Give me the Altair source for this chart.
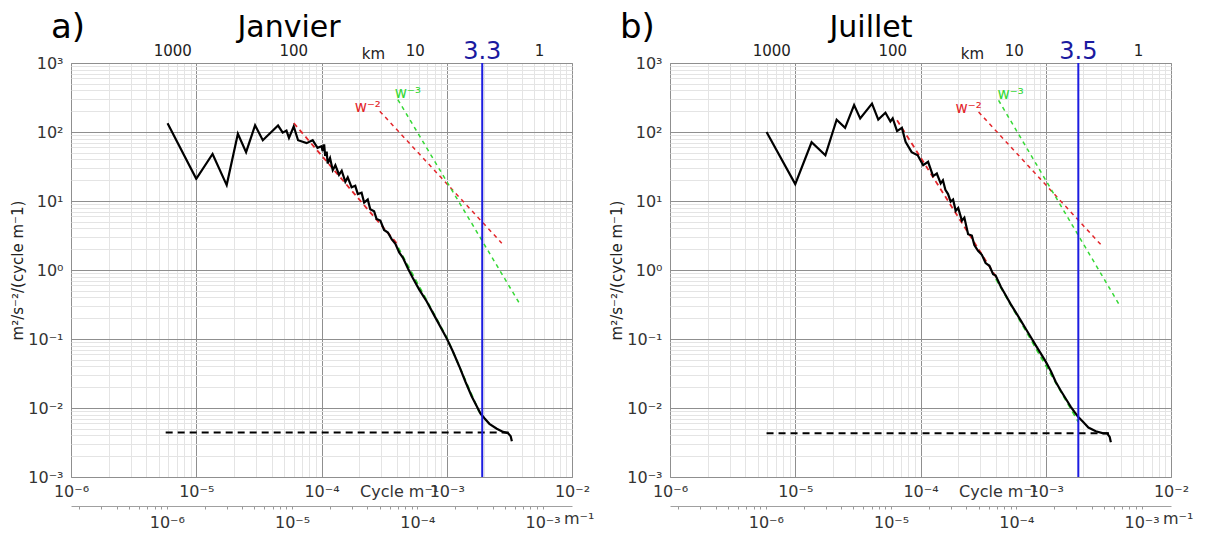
import altair as alt
import pandas as pd

FONT = "DejaVu Sans"

# ---------------- data ----------------
titles = ["Janvier", "Juillet"]
tags = ["a)", "b)"]
cutoff_labels = ["3.3", "3.5"]
cutoff_k = [1.92e-3, 1.82e-3]

km_labels = ["1000", "100", "10", "1"]
km_label_k = [6.5e-6, 6.0e-5, 5.6e-4, 5.5e-3]
km_unit_k = [2.6e-4]

# January spectrum (cycle m-1, m2 s-2 / cycle m-1)
jan_k = [5.9e-6, 1.0e-5, 1.35e-5, 1.75e-5, 2.15e-5, 2.5e-5, 2.95e-5, 3.4e-5, 4.5e-5, 4.9e-5,
         5.25e-5, 5.5e-5, 6.0e-5, 6.5e-5, 7.6e-5, 8.5e-5, 9.3e-5, 1.0e-4, 1.02e-4, 1.05e-4,
         1.07e-4, 1.1e-4, 1.12e-4, 1.17e-4, 1.23e-4, 1.29e-4, 1.38e-4, 1.45e-4, 1.55e-4, 1.62e-4,
         1.74e-4, 1.86e-4, 1.95e-4, 2.09e-4, 2.19e-4, 2.34e-4, 2.45e-4, 2.63e-4, 2.75e-4, 2.95e-4,
         3.16e-4, 3.39e-4, 3.63e-4, 3.89e-4, 4.17e-4, 4.47e-4, 4.90e-4, 5.37e-4, 6.03e-4, 6.92e-4,
         7.94e-4, 9.12e-4, 1.0e-3, 1.12e-3, 1.26e-3, 1.41e-3, 1.58e-3, 1.74e-3, 1.86e-3, 2.0e-3,
         2.19e-3, 2.51e-3, 2.82e-3, 3.09e-3, 3.24e-3, 3.31e-3]
jan_e = [134, 21, 48, 17, 94, 51, 125, 76, 124, 98,
         105, 82, 120, 76, 69, 76, 59, 62, 53, 66,
         45, 52, 35, 42, 28, 33, 24, 27.5, 19, 22,
         15.8, 16.6, 12.6, 13.2, 9.5, 10.5, 7.6, 7.1, 5.5, 5.2,
         3.8, 3.5, 2.8, 2.4, 1.8, 1.5, 1.05, 0.76, 0.52, 0.35,
         0.22, 0.138, 0.102, 0.066, 0.040, 0.024, 0.0148, 0.0105, 0.0083, 0.0071,
         0.0059, 0.0050, 0.0045, 0.0043, 0.0039, 0.0033]

# July spectrum
jul_k = [5.9e-6, 1.0e-5, 1.35e-5, 1.74e-5, 2.14e-5, 2.5e-5, 2.95e-5, 3.3e-5, 4.1e-5, 4.6e-5,
         5.25e-5, 5.75e-5, 6.0e-5, 6.5e-5, 7.1e-5, 7.6e-5, 8.5e-5, 9.5e-5, 1.05e-4, 1.15e-4,
         1.26e-4, 1.35e-4, 1.45e-4, 1.51e-4, 1.58e-4, 1.66e-4, 1.74e-4, 1.82e-4, 1.91e-4, 2.0e-4,
         2.14e-4, 2.24e-4, 2.40e-4, 2.57e-4, 2.69e-4, 2.88e-4, 3.09e-4, 3.31e-4, 3.55e-4, 3.80e-4,
         3.98e-4, 4.37e-4, 4.79e-4, 5.25e-4, 5.75e-4, 6.31e-4, 6.92e-4, 7.59e-4, 8.32e-4, 9.12e-4,
         1.0e-3, 1.10e-3, 1.20e-3, 1.32e-3, 1.45e-3, 1.58e-3, 1.70e-3, 1.82e-3, 2.0e-3, 2.19e-3,
         2.51e-3, 2.88e-3, 3.09e-3, 3.24e-3, 3.31e-3]
jul_e = [100, 17.6, 71, 46, 151, 115, 245, 157, 258, 151,
         190, 142, 158, 103, 115, 72, 51, 46, 33, 37,
         23, 25, 18, 20, 14.5, 12.6, 9.8, 10.5, 7.2, 7.9,
         5.2, 5.75, 3.3, 3.16, 2.3, 1.9, 1.66, 1.26, 1.15, 0.87,
         0.83, 0.575, 0.43, 0.32, 0.245, 0.186, 0.141, 0.107, 0.081, 0.062,
         0.047, 0.034, 0.024, 0.0178, 0.0135, 0.0105, 0.0087, 0.0074, 0.0062, 0.0052,
         0.0046, 0.0043, 0.0043, 0.0038, 0.0032]

# noise level (dashed black)
jan_noise_k = [5.7e-6, 3.2e-3]
jan_noise_e = [0.0044, 0.0044]
jul_noise_k = [5.9e-6, 3.2e-3]
jul_noise_e = [0.0043, 0.0043]

# fits along the spectrum
jan_fit2_k = [6.0e-5, 4.1e-4]
jan_fit2_e = [135, 2.3]
jan_fit3_k = [4.1e-4, 1.0e-3, 1.82e-3]
jan_fit3_e = [2.1, 0.105, 0.0087]
jul_fit2_k = [6.5e-5, 4.0e-4]
jul_fit2_e = [148, 0.8]
jul_fit3_k = [4.0e-4, 1.82e-3]
jul_fit3_e = [0.74, 0.0063]

# reference slopes w-2 and w-3
jan_ref2_k = [2.92e-4, 2.75e-3]
jan_ref2_e = [200, 2.45]
jan_ref3_k = [4.07e-4, 3.8e-3]
jan_ref3_e = [295, 0.33]
jul_ref2_k = [2.91e-4, 2.75e-3]
jul_ref2_e = [195, 2.34]
jul_ref3_k = [4.2e-4, 3.84e-3]
jul_ref3_e = [288, 0.32]

ref_labels = ["w⁻²", "w⁻³"]
jan_ref_label_k = [2.34e-4, 4.9e-4]
jan_ref_label_e = [229, 367]
jul_ref_label_k = [2.42e-4, 5.25e-4]
jul_ref_label_e = [220, 359]

# ---------------- helpers ----------------
SUP = str.maketrans("-0123456789", "⁻⁰¹²³⁴⁵⁶⁷⁸⁹")
L = "round(log(datum.value)/LN10)"
ISDEC = "abs(log(datum.value)/LN10 - round(log(datum.value)/LN10)) < 0.02"


def label_expr():
    expr = "''"
    for e in range(3, -9, -1):
        expr = f"{L} == {e} ? '10{str(e).translate(SUP)}' : ({expr})"
    return f"{ISDEC} ? ({expr}) : ''"


LABEL_EXPR = label_expr()
GRID_COLOR = {"condition": {"test": ISDEC, "value": "#8f8f8f"}, "value": "#e4e4e4"}

x_vals = [m * 10.0 ** e for e in range(-6, -2) for m in range(1, 10)] + [1e-2]
y_vals = [m * 10.0 ** e for e in range(-3, 3) for m in range(1, 10)] + [1e3]
x2_vals = [m * 10.0 ** e for e in range(-7, -2) for m in range(1, 10)]

W, H = 501, 414

XS = alt.Scale(type="log", domain=[1e-6, 1e-2], nice=False)
YS = alt.Scale(type="log", domain=[1e-3, 1e3], nice=False)
XAX = alt.Axis(values=x_vals, labelExpr=LABEL_EXPR, grid=True, gridColor=GRID_COLOR,
               ticks=False, domain=False, labelFlush=False, labelOverlap=False,
               labelFontSize=16, labelColor="#333333", labelPadding=6, title=None)
YAX = alt.Axis(values=y_vals, labelExpr=LABEL_EXPR, grid=True, gridColor=GRID_COLOR,
               ticks=False, domain=False, labelOverlap=False,
               labelFontSize=16, labelColor="#333333", labelPadding=8,
               title="m²/s⁻²/(cycle m⁻1)", titleFontSize=15, titleFontWeight="normal",
               titleColor="#222222", titlePadding=2)


def xenc(field="k"):
    return alt.X(f"{field}:Q", scale=XS, axis=XAX)


def yenc(field="e"):
    return alt.Y(f"{field}:Q", scale=YS, axis=YAX)


def line(k, e, **kw):
    df = pd.DataFrame({"k": k, "e": e})
    return alt.Chart(df).mark_line(**kw).encode(x=xenc(), y=yenc(), order="k:Q")


def panel(i, spec_k, spec_e, noise_k, noise_e, f2k, f2e, f3k, f3e, r2k, r2e, r3k, r3e,
          lab_k, lab_e, title_dx, tag_dx):
    red, green = "#e3262b", "#35d835"
    layers = []
    layers.append(line(f2k, f2e, color=red, strokeDash=[5, 4], strokeWidth=1.8))
    layers.append(line(f3k, f3e, color=green, strokeDash=[5, 4], strokeWidth=1.8))
    layers.append(line(spec_k, spec_e, color="black", strokeWidth=2.2))
    layers.append(line(noise_k, noise_e, color="black", strokeDash=[7, 5], strokeWidth=2))
    layers.append(line(r2k, r2e, color=red, strokeDash=[4, 4], strokeWidth=1.5))
    layers.append(line(r3k, r3e, color=green, strokeDash=[4, 4], strokeWidth=1.5))
    # w labels
    lab_df = pd.DataFrame({"k": lab_k, "e": lab_e, "t": ref_labels, "c": [red, green]})
    layers.append(alt.Chart(lab_df).mark_text(fontSize=15, font=FONT).encode(
        x=xenc(), y=yenc(), text="t:N", color=alt.Color("c:N", scale=None)))
    # cutoff line
    cut_df = pd.DataFrame({"k": [cutoff_k[i]], "t": [cutoff_labels[i]]})
    layers.append(alt.Chart(cut_df).mark_rule(color="#1c1ce0", strokeWidth=2).encode(x=xenc()))
    layers.append(alt.Chart(cut_df).mark_text(fontSize=24, font=FONT, color="#1a1aa0",
                                              baseline="alphabetic").encode(
        x=xenc(), y=alt.value(-4), text="t:N"))
    # km labels on top
    km_df = pd.DataFrame({"k": km_label_k, "t": km_labels})
    layers.append(alt.Chart(km_df).mark_text(fontSize=15, font=FONT, color="#222222",
                                             baseline="alphabetic").encode(
        x=xenc(), y=alt.value(-7), text="t:N"))
    kmu_df = pd.DataFrame({"k": km_unit_k, "t": ["km"]})
    layers.append(alt.Chart(kmu_df).mark_text(fontSize=15, font=FONT, color="#222222",
                                              baseline="alphabetic").encode(
        x=xenc(), y=alt.value(-4), text="t:N"))
    # axis name texts
    cyc_df = pd.DataFrame({"t": ["Cycle m⁻¹"]})
    layers.append(alt.Chart(cyc_df).mark_text(fontSize=16, font=FONT, color="#333333",
                                              align="left", baseline="middle").encode(
        x=alt.value(289), y=alt.value(H + 15), text="t:N"))
    m_df = pd.DataFrame({"t": ["m⁻¹"]})
    layers.append(alt.Chart(m_df).mark_text(fontSize=16, font=FONT, color="#333333",
                                            align="left", baseline="middle").encode(
        x=alt.value(W - 8), y=alt.value(H + 42), text="t:N"))
    # title and tag
    t_df = pd.DataFrame({"t": [titles[i]]})
    layers.append(alt.Chart(t_df).mark_text(fontSize=30, font=FONT, color="black",
                                            baseline="alphabetic").encode(
        x=alt.value(title_dx), y=alt.value(-26), text="t:N"))
    g_df = pd.DataFrame({"t": [tags[i]]})
    layers.append(alt.Chart(g_df).mark_text(fontSize=34, font=FONT, color="black",
                                            align="left", baseline="alphabetic").encode(
        x=alt.value(tag_dx), y=alt.value(-25), text="t:N"))

    inner = alt.layer(*layers)

    sec_df = pd.DataFrame({"k2": [1e-6, 1e-3]})
    sec = alt.Chart(sec_df).mark_point(opacity=0).encode(
        x=alt.X("k2:Q",
                scale=alt.Scale(type="log", domain=[10 ** -6.765, 10 ** -2.765], nice=False),
                axis=alt.Axis(orient="bottom", offset=29, values=x2_vals, labelExpr=LABEL_EXPR,
                              grid=False, ticks=True, tickSize=3, tickColor="#999999",
                              domain=True, domainColor="#a0a0a0", labelFlush=False,
                              labelOverlap=False, labelFontSize=16, labelColor="#333333",
                              labelPadding=5, title=None)))
    return alt.layer(inner, sec).resolve_scale(x="independent").properties(width=W, height=H)


pa = panel(0, jan_k, jan_e, jan_noise_k, jan_noise_e, jan_fit2_k, jan_fit2_e, jan_fit3_k,
           jan_fit3_e, jan_ref2_k, jan_ref2_e, jan_ref3_k, jan_ref3_e,
           jan_ref_label_k, jan_ref_label_e, title_dx=218, tag_dx=-20)
pb = panel(1, jul_k, jul_e, jul_noise_k, jul_noise_e, jul_fit2_k, jul_fit2_e, jul_fit3_k,
           jul_fit3_e, jul_ref2_k, jul_ref2_e, jul_ref3_k, jul_ref3_e,
           jul_ref_label_k, jul_ref_label_e, title_dx=201, tag_dx=-50)

chart = alt.hconcat(pa, pb, spacing=14).configure(
    padding={"left": 2, "top": 2, "right": 0, "bottom": 0},
    font=FONT,
).configure_view(stroke="#9a9a9a", strokeWidth=1)

chart.save("out.html", embed_options={"renderer": "svg", "actions": False})
